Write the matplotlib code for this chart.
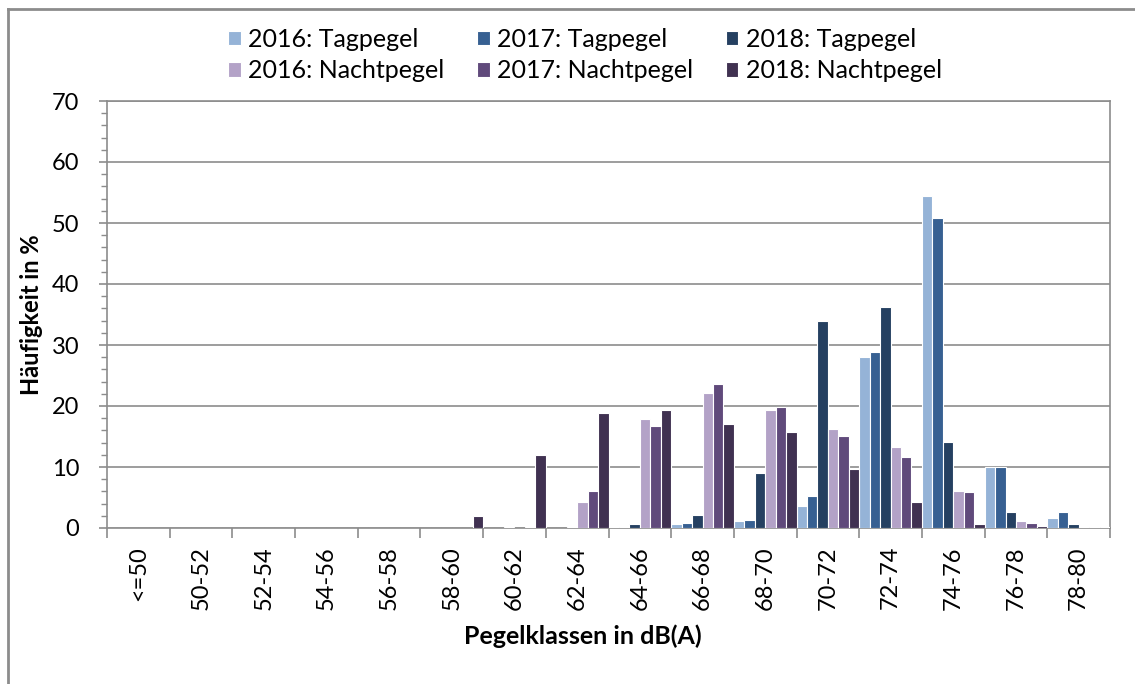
import numpy as np
import matplotlib
matplotlib.use('Agg')
import matplotlib.pyplot as plt
from matplotlib.lines import Line2D

plt.rcParams['font.family'] = ['Lato', 'DejaVu Sans']

classes = ['<=50', '50-52', '52-54', '54-56', '56-58', '58-60', '60-62', '62-64',
           '64-66', '66-68', '68-70', '70-72', '72-74', '74-76', '76-78', '78-80']

tag_2016   = [0, 0, 0, 0, 0, 0, 0,   0,   0.1, 0.7, 1.1, 3.6, 28.1, 54.5, 10.0, 1.7]
tag_2017   = [0, 0, 0, 0, 0, 0, 0,   0,   0.2, 0.8, 1.3, 5.2, 28.9, 50.8, 10.0, 2.7]
tag_2018   = [0, 0, 0, 0, 0, 0, 0.2, 0.2, 0.7, 2.1, 9.0, 33.9, 36.2, 14.1, 2.7, 0.65]
nacht_2016 = [0, 0, 0, 0, 0, 0, 0,   4.3, 17.8, 22.1, 19.3, 16.2, 13.3, 6.1, 1.1, 0.2]
nacht_2017 = [0, 0, 0, 0, 0, 0, 0.15, 6.0, 16.8, 23.6, 19.8, 15.1, 11.6, 5.9, 0.9, 0.2]
nacht_2018 = [0, 0, 0, 0, 0, 2.0, 11.9, 18.9, 19.4, 17.0, 15.7, 9.7, 4.3, 0.7, 0.3, 0.1]

series = [
    ('2016: Tagpegel', tag_2016, '#95B3D7'),
    ('2017: Tagpegel', tag_2017, '#376092'),
    ('2018: Tagpegel', tag_2018, '#254061'),
    ('2016: Nachtpegel', nacht_2016, '#B3A2C7'),
    ('2017: Nachtpegel', nacht_2017, '#604A7B'),
    ('2018: Nachtpegel', nacht_2018, '#403151'),
]

fig = plt.figure(figsize=(11.35, 6.84), dpi=100)
ax = fig.add_axes([107/1135, 1 - 528/684, (1110 - 107)/1135, (528 - 101)/684])

x = np.arange(len(classes))
w = 1 / 6
bars = {}
for i, (name, vals, col) in enumerate(series):
    bars[name] = ax.bar(x - 0.5 + w * (i + 0.5), vals, width=w, color=col,
                        edgecolor='white', linewidth=0.8, label=name, zorder=3)

ax.set_xlim(-0.5, len(classes) - 0.5)
ax.set_ylim(0, 70)
ax.set_yticks(np.arange(0, 71, 10))
ax.set_yticks(np.arange(0, 71, 2), minor=True)
ax.grid(axis='y', which='major', color='#8C8C8C', linewidth=1.2, zorder=0)

# category labels at centres, tick marks at boundaries
ax.set_xticks(x)
ax.set_xticklabels(classes, rotation=90)
ax.set_xticks(np.arange(len(classes) + 1) - 0.5, minor=True)
ax.tick_params(axis='x', which='major', length=0, pad=13, labelsize=17)
ax.tick_params(axis='x', which='minor', length=7, color='#8C8C8C', width=1.2)
ax.tick_params(axis='y', which='major', length=6, color='#8C8C8C', width=1.2,
               pad=14, labelsize=17)
ax.tick_params(axis='y', which='minor', length=4, color='#8C8C8C', width=1.0)

for s in ax.spines.values():
    s.set_color('#8C8C8C')
    s.set_linewidth(1.2)

fig.text(32/1135, 1 - 315/684, 'Häufigkeit in %', rotation=90, ha='center',
         va='center', fontsize=17, fontweight='bold')
fig.text(583/1135, 1 - 636/684, 'Pegelklassen in dB(A)', ha='center',
         va='center', fontsize=18, fontweight='bold')

order = ['2016: Tagpegel', '2016: Nachtpegel', '2017: Tagpegel',
         '2017: Nachtpegel', '2018: Tagpegel', '2018: Nachtpegel']
fig.legend([bars[n] for n in order], order, ncol=3, loc='center',
           bbox_to_anchor=(585/1135, 1 - 55/684), frameon=False, fontsize=18,
           handlelength=0.5, handleheight=0.5, handletextpad=0.3,
           columnspacing=1.3, labelspacing=0.35, borderpad=0)

# chart area border (only left and top visible)
fig.add_artist(Line2D([8/1135, 8/1135], [0, 1 - 9/684], transform=fig.transFigure,
                      color='#8C8C8C', linewidth=2))
fig.add_artist(Line2D([8/1135, 1], [1 - 9/684, 1 - 9/684], transform=fig.transFigure,
                      color='#8C8C8C', linewidth=2))

fig.savefig('out.png', dpi=100)
